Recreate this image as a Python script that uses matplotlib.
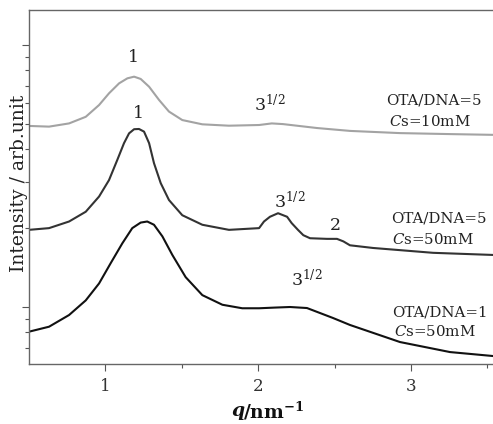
import matplotlib
matplotlib.use('Agg')
import matplotlib.pyplot as plt
from matplotlib.ticker import LogLocator, MultipleLocator, NullFormatter

plt.rcParams['font.family'] = 'DejaVu Serif'
plt.rcParams['mathtext.fontset'] = 'dejavuserif'

# curve colours
light_gray = '#a3a3a3'
dark_gray = '#333333'
black = '#111111'

# OTA/DNA=5, Cs=10mM (top)
q_10mM = [0.503, 0.634, 0.765, 0.874, 0.961, 1.026, 1.092, 1.146, 1.190, 1.233,
          1.288, 1.353, 1.418, 1.505, 1.636, 1.810, 2.007, 2.090, 2.163, 2.386,
          2.601, 2.928, 3.255, 3.536]
I_10mM = [49.1, 48.8, 50.2, 53.2, 59.0, 65.4, 71.4, 74.6, 75.7, 74.2,
          69.3, 61.7, 55.7, 51.7, 49.8, 49.2, 49.5, 50.2, 49.9, 48.2,
          47.0, 46.1, 45.7, 45.4]

# OTA/DNA=5, Cs=50mM (middle)
q_r5 = [0.503, 0.634, 0.765, 0.874, 0.961, 1.026, 1.080, 1.124, 1.157, 1.190,
        1.222, 1.255, 1.288, 1.320, 1.364, 1.418, 1.505, 1.636, 1.810, 2.007,
        2.039, 2.078, 2.131, 2.190, 2.220, 2.261, 2.296, 2.340, 2.451, 2.516,
        2.558, 2.601, 2.752, 3.144, 3.536]
I_r5 = [19.7, 20.0, 21.2, 23.1, 26.4, 30.5, 36.4, 42.2, 46.0, 47.7,
        47.8, 46.7, 42.2, 35.4, 29.7, 25.6, 22.4, 20.6, 19.7, 20.0,
        21.2, 22.1, 22.8, 22.1, 20.9, 19.7, 18.8, 18.3, 18.2, 18.2,
        17.8, 17.2, 16.8, 16.1, 15.8]

# OTA/DNA=1, Cs=50mM (bottom)
q_r1 = [0.503, 0.634, 0.765, 0.874, 0.961, 1.037, 1.113, 1.178, 1.233, 1.276,
        1.320, 1.375, 1.440, 1.527, 1.636, 1.767, 1.897, 2.007, 2.111, 2.209,
        2.320, 2.490, 2.601, 2.928, 3.255, 3.536]
I_r1 = [8.05, 8.41, 9.32, 10.6, 12.3, 14.7, 17.5, 20.0, 21.0, 21.2,
        20.6, 18.6, 15.8, 13.0, 11.1, 10.2, 9.89, 9.89, 9.95, 10.0,
        9.91, 9.08, 8.54, 7.35, 6.73, 6.50]

W, H = 493, 424
fig = plt.figure(figsize=(W / 100, H / 100), dpi=100)
ax = fig.add_axes([29 / W, 1 - 364 / H, 1 - 29 / W, (364 - 10) / H])

line_kw = dict(lw=1.5, solid_joinstyle='round', solid_capstyle='round')
ax.plot(q_10mM, I_10mM, color=light_gray, **line_kw)
ax.plot(q_r5, I_r5, color=dark_gray, **line_kw)
ax.plot(q_r1, I_r1, color=black, **line_kw)

ax.set_yscale('log')
ax.set_xlim(0.503, 3.536)
ax.set_ylim(6.06, 136.0)

ax.xaxis.set_major_locator(MultipleLocator(1))
ax.xaxis.set_minor_locator(MultipleLocator(0.5))
ax.yaxis.set_major_locator(LogLocator(base=10))
ax.yaxis.set_minor_locator(LogLocator(base=10, subs=range(2, 10)))
ax.yaxis.set_major_formatter(NullFormatter())
ax.yaxis.set_minor_formatter(NullFormatter())
ax.tick_params(axis='both', which='major', direction='out', length=5, width=0.8, color='#555555',
               labelsize=12, labelcolor='#333333')
ax.tick_params(axis='both', which='minor', direction='out', length=3, width=0.8, color='#555555')
ax.tick_params(axis='x', pad=5)

for side in ['left', 'bottom', 'top']:
    ax.spines[side].set_color('#666666')
    ax.spines[side].set_linewidth(1.0)
ax.spines['right'].set_visible(False)

# pixel position -> axes fraction
def fx(x):
    return (x - 29) / (W - 29)

def fy(y):
    return (364 - y) / 354

txt = dict(transform=ax.transAxes, fontsize=12.5, color='#222222')
ax.text(fx(133), fy(57), '1', ha='center', va='center', **txt)
ax.text(fx(138), fy(113), '1', ha='center', va='center', **txt)
ax.text(fx(254), fy(111), r'$\mathregular{3^{1/2}}$', ha='left', va='baseline', **txt)
ax.text(fx(274), fy(208), r'$\mathregular{3^{1/2}}$', ha='left', va='baseline', **txt)
ax.text(fx(335), fy(226), '2', ha='center', va='center', **txt)
ax.text(fx(291), fy(286), r'$\mathregular{3^{1/2}}$', ha='left', va='baseline', **txt)

lab = dict(transform=ax.transAxes, fontsize=10.8, color='#222222', ha='left', va='center')
ax.text(fx(386), fy(100), 'OTA/DNA=5', **lab)
ax.text(fx(389), fy(122), r'$\mathit{C}$s=10mM', **lab)
ax.text(fx(391), fy(218), 'OTA/DNA=5', **lab)
ax.text(fx(392), fy(239), r'$\mathit{C}$s=50mM', **lab)
ax.text(fx(392), fy(313), 'OTA/DNA=1', **lab)
ax.text(fx(394), fy(332), r'$\mathit{C}$s=50mM', **lab)

fig.text(19 / W, 1 - 183 / H, 'Intensity / arb.unit', rotation=90, ha='center', va='center',
         fontsize=13.5, color='#222222')
fig.text(231 / W, 1 - 411 / H, 'q', style='italic', weight='bold', ha='left', va='center',
         fontsize=13.5, color='#111111')
fig.text(243 / W, 1 - 411 / H, r'/nm$^{\mathregular{-1}}$', weight='bold', ha='left', va='center',
         fontsize=13.5, color='#111111')

fig.savefig('out.png', dpi=100, facecolor='white')
